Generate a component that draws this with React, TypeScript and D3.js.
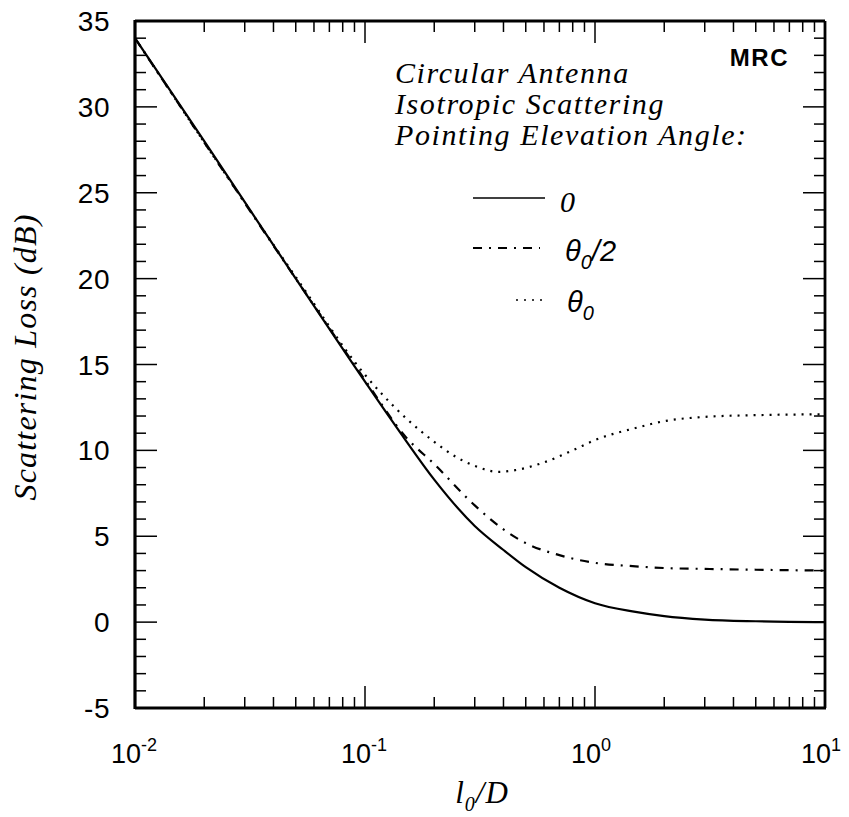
import React from 'react';
import * as d3 from 'd3';

// curve data (x = l0/D, y = loss in dB)
const solidX = [0.01, 0.02, 0.05, 0.1, 0.15, 0.2, 0.3, 0.4, 0.5, 0.7, 1.0, 1.5, 2, 3, 5, 10];
const solidDb = [34.0, 28.0, 20.0, 14.0, 10.6, 8.3, 5.6, 4.2, 3.2, 2.0, 1.1, 0.6, 0.35, 0.15, 0.05, 0.0];

const halfX = [0.01, 0.05, 0.1, 0.15, 0.2, 0.3, 0.4, 0.5, 0.7, 1.0, 1.5, 2, 3, 5, 10];
const halfDb = [34.0, 20.0, 14.1, 10.8, 9.2, 6.8, 5.4, 4.6, 3.9, 3.45, 3.25, 3.15, 3.1, 3.05, 3.0];

const fullX = [0.01, 0.05, 0.1, 0.12, 0.15, 0.2, 0.25, 0.3, 0.38, 0.45, 0.6, 0.8, 1.0, 1.5, 2, 3, 5, 10];
const fullDb = [34.0, 20.1, 14.4, 13.2, 11.9, 10.5, 9.6, 9.1, 8.75, 8.85, 9.3, 10.0, 10.6, 11.3, 11.7, 11.95, 12.05, 12.1];

const yTickLabels = [35, 30, 25, 20, 15, 10, 5, 0, -5];
const xTickExponents = [-2, -1, 0, 1];

const legendLines = ['Circular Antenna', 'Isotropic Scattering', 'Pointing Elevation Angle:'];

const W = 849;
const H = 817;
const left = 135;
const right = 825;
const top = 21;
const bottom = 708;

const serif = '"Liberation Serif", "Times New Roman", serif';
const sans = '"Liberation Sans", Arial, Helvetica, sans-serif';

const App = () => {
  const x = d3.scaleLog().domain([0.01, 10]).range([left, right]);
  const y = d3.scaleLinear().domain([-5, 35]).range([bottom, top]);

  const line = d3.line<[number, number]>()
    .x(d => x(d[0]))
    .y(d => y(d[1]))
    .curve(d3.curveMonotoneX);

  const zip = (xs: number[], ys: number[]) => xs.map((v, i) => [v, ys[i]] as [number, number]);

  // minor ticks on log axis: 1..9 per decade
  const xTicks = x.ticks();
  const isMajorX = (v: number) => Math.abs(Math.log10(v) - Math.round(Math.log10(v))) < 1e-6;
  const yTicks = y.ticks(40);

  const dashDot = '9 7 2 7';
  const dots = '2 6';

  return (
    <svg width={W} height={H} style={{ position: 'absolute', left: 0, top: 0, background: '#fff' }}>
      {/* curves */}
      <path d={line(zip(solidX, solidDb)) || ''} fill="none" stroke="#000" strokeWidth={2.2} />
      <path d={line(zip(halfX, halfDb)) || ''} fill="none" stroke="#000" strokeWidth={2.2} strokeDasharray={dashDot} />
      <path d={line(zip(fullX, fullDb)) || ''} fill="none" stroke="#000" strokeWidth={2.2} strokeDasharray={dots} />

      {/* x ticks (bottom up, top down) */}
      {xTicks.map((v, i) => {
        const len = isMajorX(v) ? 22 : 11;
        const px = x(v);
        return (
          <g key={'xt' + i}>
            <line x1={px} x2={px} y1={bottom} y2={bottom - len} stroke="#000" strokeWidth={1.5} />
            <line x1={px} x2={px} y1={top} y2={top + len} stroke="#000" strokeWidth={1.5} />
          </g>
        );
      })}

      {/* y ticks (left and right, inward) */}
      {yTicks.map((v, i) => {
        const len = v % 5 === 0 ? 22 : 11;
        const py = y(v);
        return (
          <g key={'yt' + i}>
            <line x1={left} x2={left + len} y1={py} y2={py} stroke="#000" strokeWidth={1.5} />
            <line x1={right} x2={right - len} y1={py} y2={py} stroke="#000" strokeWidth={1.5} />
          </g>
        );
      })}

      {/* frame */}
      <line x1={left} x2={right} y1={top} y2={top} stroke="#000" strokeWidth={2.8} />
      <line x1={right} x2={right} y1={top} y2={bottom} stroke="#000" strokeWidth={2.8} />
      <line x1={left} x2={right + 1} y1={bottom} y2={bottom} stroke="#000" strokeWidth={3.2} />
      <line x1={left} x2={left} y1={top - 1} y2={bottom + 1} stroke="#000" strokeWidth={3.2} />

      {/* y tick labels */}
      {yTickLabels.map(v => (
        <text key={'yl' + v} x={left - 25} y={y(v) + 10} textAnchor="end"
          fontFamily={sans} fontSize={28} letterSpacing={0.5}>{v}</text>
      ))}

      {/* x tick labels */}
      {xTickExponents.map(e => (
        <text key={'xl' + e} x={x(Math.pow(10, e)) - 24} y={bottom + 55} fontFamily={sans} fontSize={27}>
          10<tspan fontSize={18} dy={-12}>{e}</tspan>
        </text>
      ))}

      {/* axis titles */}
      <text x={482} y={803} textAnchor="middle" fontFamily={serif} fontStyle="italic" fontSize={31} letterSpacing={1}>
        l<tspan fontSize={20} dy={8}>0</tspan><tspan dy={-8}>/D</tspan>
      </text>
      <text transform={`translate(36, 357) rotate(-90)`} textAnchor="middle"
        fontFamily={serif} fontStyle="italic" fontSize={32} letterSpacing={1.2}>
        Scattering Loss (dB)
      </text>

      {/* annotation */}
      <text x={789} y={66} textAnchor="end" fontFamily={sans} fontWeight="bold" fontSize={24} letterSpacing={1.5}>MRC</text>
      {legendLines.map((t, i) => (
        <text key={t} x={395} y={83 + i * 31} fontFamily={serif} fontStyle="italic" fontSize={30} letterSpacing={1.6}>{t}</text>
      ))}

      {/* legend */}
      <line x1={473} x2={545} y1={198} y2={198} stroke="#000" strokeWidth={1.6} />
      <text x={560} y={212} fontFamily={serif} fontStyle="italic" fontSize={30}>0</text>

      <line x1={473} x2={540} y1={248} y2={248} stroke="#000" strokeWidth={1.8} strokeDasharray={dashDot} />
      <text x={565} y={261} fontFamily={sans} fontStyle="italic" fontSize={29}>
        θ<tspan fontSize={20} dy={8}>0</tspan><tspan dy={-8}>/2</tspan>
      </text>

      <line x1={516} x2={548} y1={300} y2={300} stroke="#000" strokeWidth={1.6} strokeDasharray={dots} />
      <text x={567} y={312} fontFamily={sans} fontStyle="italic" fontSize={29}>
        θ<tspan fontSize={20} dy={8}>0</tspan>
      </text>
    </svg>
  );
};

export default App;
